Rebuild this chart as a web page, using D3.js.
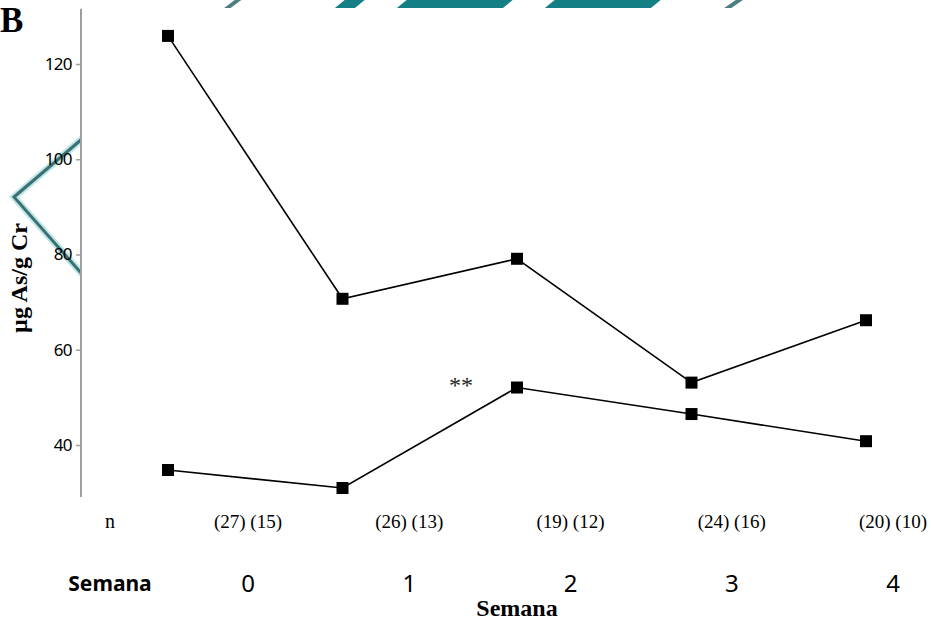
<!DOCTYPE html>
<html>
<head>
<meta charset="utf-8">
<script src="https://cdn.jsdelivr.net/npm/d3@7"></script>
<style>
  body { margin: 0; background: #fff; }
  svg { display: block; }
</style>
</head>
<body>
<div id="chart"></div>
<script>
// data
var weeks = [0, 1, 2, 3, 4];
var groupHigh = [125.9, 70.7, 79.1, 53.1, 66.2];
var groupLow = [34.75, 30.97, 52.07, 46.5, 40.8];
var nLabels = ["(27) (15)", "(26) (13)", "(19) (12)", "(24) (16)", "(20) (10)"];
var yTicks = [40, 60, 80, 100, 120];

var width = 931, height = 622;

var svg = d3.select("#chart")
  .append("svg")
    .attr("width", width)
    .attr("height", height);

// background watermark (teal shapes behind the plot)
var wm = svg.append("g");
wm.append("path")
    .attr("d", "M82,139 L14,197 L82,274")
    .attr("fill", "none")
    .attr("stroke", "#bfe6e6")
    .attr("stroke-width", 7);
wm.append("path")
    .attr("d", "M82,139 L14,197 L82,274")
    .attr("fill", "none")
    .attr("stroke", "#3c7072")
    .attr("stroke-width", 3);
wm.append("path")
    .attr("d", "M222,12 L246,-6 M722,12 L748,-6")
    .attr("stroke", "#4d7f82")
    .attr("stroke-width", 4);
wm.append("path")
    .attr("d", "M330,12 L352,-6 L372,-6 L350,12 Z M392,12 L414,-6 L520,-6 L498,12 Z M540,12 L562,-6 L668,-6 L646,12 Z")
    .attr("fill", "#147f85");

// white plot area over the watermark
svg.append("rect")
    .attr("x", 82)
    .attr("y", 8)
    .attr("width", width - 82)
    .attr("height", height - 8)
    .attr("fill", "#fff");

// scales
var x = d3.scaleLinear()
          .domain([0, 4])
          .range([168, 866]);
var y = d3.scaleLinear()
          .domain([40, 120])
          .range([445, 64]);
// bottom labels are laid out on their own grid
var xLab = d3.scaleLinear()
             .domain([0, 4])
             .range([248, 893]);

// Y axis
var yAxis = svg.append("g")
    .attr("transform", "translate(81,0)")
    .call(d3.axisLeft(y).tickValues(yTicks).tickSize(5).tickPadding(4));
yAxis.select(".domain")
    .attr("d", "M0," + y(29.1) + "V" + y(131.6))
    .attr("stroke", "#a0a0a0")
    .attr("stroke-width", 2);
yAxis.selectAll(".tick line")
    .attr("stroke", "#a0a0a0")
    .attr("stroke-width", 1.5);
yAxis.selectAll(".tick text")
    .attr("font-family", "Noto Sans")
    .attr("font-size", "17px")
    .attr("letter-spacing", "-0.6px")
    .attr("fill", "#000");

// lines
var line = d3.line()
    .x(function(d, i) { return x(weeks[i]); })
    .y(function(d) { return y(d); });

[groupHigh, groupLow].forEach(function(series) {
  svg.append("path")
      .datum(series)
      .attr("d", line)
      .attr("fill", "none")
      .attr("stroke", "#000")
      .attr("stroke-width", 1.6);

  svg.append("g")
    .selectAll("rect")
    .data(series)
    .enter()
    .append("rect")
      .attr("x", function(d, i) { return x(weeks[i]) - 6; })
      .attr("y", function(d) { return y(d) - 6; })
      .attr("width", 12)
      .attr("height", 12)
      .attr("fill", "#000");
});

// significance mark
svg.append("text")
    .attr("x", x(2) - 68)
    .attr("y", y(groupLow[2]) + 5)
    .attr("font-family", "Liberation Serif")
    .attr("font-size", "24px")
    .attr("fill", "#222")
    .text("**");

// sample sizes row
svg.append("text")
    .attr("x", 110)
    .attr("y", 528)
    .attr("text-anchor", "middle")
    .attr("font-family", "Liberation Serif")
    .attr("font-size", "20px")
    .text("n");
svg.append("g")
  .selectAll("text")
  .data(nLabels)
  .enter()
  .append("text")
    .attr("x", function(d, i) { return xLab(weeks[i]); })
    .attr("y", 528)
    .attr("text-anchor", "middle")
    .attr("font-family", "Liberation Serif")
    .attr("font-size", "19px")
    .text(function(d) { return d; });

// week row
svg.append("text")
    .attr("x", 110)
    .attr("y", 591)
    .attr("text-anchor", "middle")
    .attr("font-family", "Noto Sans")
    .attr("font-weight", "bold")
    .attr("font-size", "21px")
    .text("Semana");
svg.append("g")
  .selectAll("text")
  .data(weeks)
  .enter()
  .append("text")
    .attr("x", function(d) { return xLab(d); })
    .attr("y", 592)
    .attr("text-anchor", "middle")
    .attr("font-family", "Noto Sans")
    .attr("font-size", "24px")
    .text(function(d) { return d; });

// x axis title (serif, low on the frame)
svg.append("text")
    .attr("x", x(2))
    .attr("y", 616)
    .attr("text-anchor", "middle")
    .attr("font-family", "Liberation Serif")
    .attr("font-weight", "bold")
    .attr("font-size", "24px")
    .text("Semana");

// y axis title
svg.append("text")
    .attr("transform", "translate(27,278) rotate(-90)")
    .attr("text-anchor", "middle")
    .attr("font-family", "Liberation Serif")
    .attr("font-weight", "bold")
    .attr("font-size", "24px")
    .text("µg As/g Cr");

// panel letter
svg.append("text")
    .attr("x", 0)
    .attr("y", 32)
    .attr("font-family", "Liberation Serif")
    .attr("font-weight", "bold")
    .attr("font-size", "35px")
    .text("B");
</script>
</body>
</html>
